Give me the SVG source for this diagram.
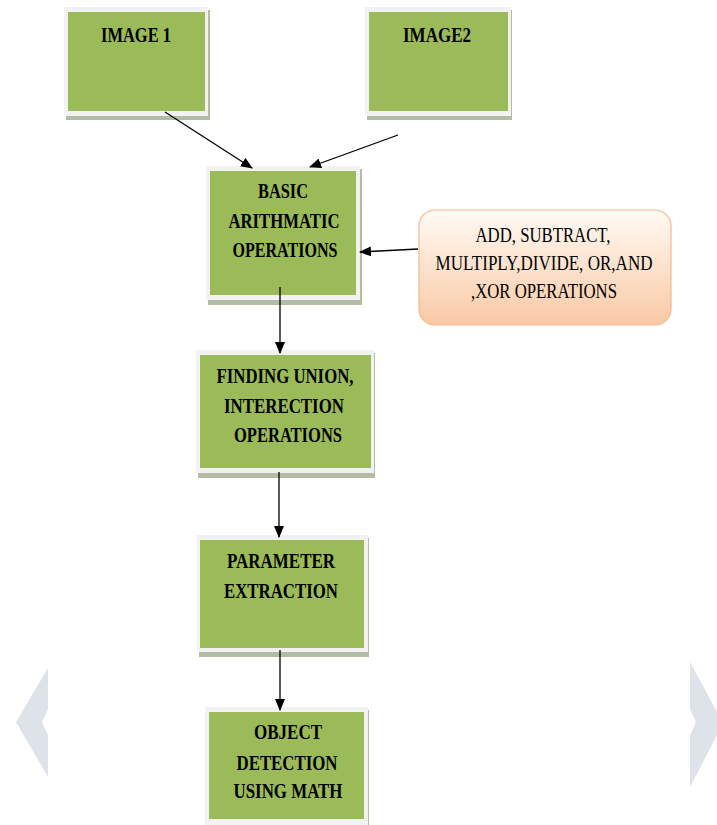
<svg xmlns="http://www.w3.org/2000/svg" width="717" height="825" viewBox="0 0 717 825">
<style>
.sh{fill:#b3bca5}
.fr{fill:#f2f2f2}
.gr{fill:#9bbb59}
.lb{font-family:"Liberation Serif","Times New Roman",serif;font-weight:bold;font-size:21px;fill:#000;text-anchor:middle}
.ob{font-family:"Liberation Serif","Times New Roman",serif;font-size:20px;fill:#000;text-anchor:middle}
.cn{stroke:#000;stroke-width:1.3;fill:none;marker-end:url(#ah)}
.chev{fill:#dde3e8}
</style>
<defs>
<marker id="ah" markerWidth="12" markerHeight="10" refX="11" refY="5" orient="auto" markerUnits="userSpaceOnUse">
<path d="M0,0 L12,5 L0,10 Z" fill="#000"/>
</marker>
<linearGradient id="og" x1="0" y1="0" x2="0" y2="1">
<stop offset="0" stop-color="#fffaf5"/>
<stop offset="1" stop-color="#f9c9a4"/>
</linearGradient>
</defs>
<rect width="717" height="825" fill="#fff"/>
<g id="chevrons">
<polygon class="chev" points="48,668 16,722 48,777 48,735 42,722 48,709"/>
<polygon class="chev" points="690,662 717,712 717,735 690,787 690,735 696,722 690,709"/>
</g>
<g id="image1">
<rect class="sh" x="66" y="10" width="144" height="110"/>
<rect class="fr" x="64" y="7" width="144" height="109"/>
<rect class="gr" x="68" y="12" width="137" height="99"/>
<text class="lb" x="136" y="42" font-size="22" textLength="70" lengthAdjust="spacingAndGlyphs">IMAGE 1</text>
</g>
<g id="image2">
<rect class="sh" x="367" y="10" width="145" height="110"/>
<rect class="fr" x="365" y="7" width="146" height="109"/>
<rect class="gr" x="369" y="12" width="139" height="99"/>
<text class="lb" x="437" y="42" font-size="22" textLength="68" lengthAdjust="spacingAndGlyphs">IMAGE2</text>
</g>
<g id="basic">
<rect class="sh" x="208" y="169" width="154" height="136"/>
<rect class="fr" x="206" y="166" width="154" height="134"/>
<rect class="gr" x="210" y="171" width="146" height="124"/>
<text class="lb" x="283" y="198" textLength="50" lengthAdjust="spacingAndGlyphs">BASIC</text>
<text class="lb" x="284" y="228" textLength="111" lengthAdjust="spacingAndGlyphs">ARITHMATIC</text>
<text class="lb" x="285" y="257" textLength="105" lengthAdjust="spacingAndGlyphs">OPERATIONS</text>
</g>
<g id="ops">
<rect x="419" y="210" width="252" height="115" rx="16" ry="16" fill="url(#og)" stroke="#f4b98c" stroke-width="1.2"/>
<text class="ob" x="543" y="242" textLength="135" lengthAdjust="spacingAndGlyphs">ADD, SUBTRACT,</text>
<text class="ob" x="544" y="270" textLength="217" lengthAdjust="spacingAndGlyphs">MULTIPLY,DIVIDE, OR,AND</text>
<text class="ob" x="544" y="298" textLength="146" lengthAdjust="spacingAndGlyphs">,XOR OPERATIONS</text>
</g>
<g id="finding">
<rect class="sh" x="198" y="353" width="177" height="125"/>
<rect class="fr" x="196" y="350" width="178" height="123"/>
<rect class="gr" x="200" y="355" width="171" height="113"/>
<text class="lb" x="285" y="383" textLength="137" lengthAdjust="spacingAndGlyphs">FINDING UNION,</text>
<text class="lb" x="284" y="413" textLength="120" lengthAdjust="spacingAndGlyphs">INTERECTION</text>
<text class="lb" x="288" y="442" textLength="108" lengthAdjust="spacingAndGlyphs">OPERATIONS</text>
</g>
<g id="parameter">
<rect class="sh" x="199" y="538" width="170" height="119"/>
<rect class="fr" x="197" y="535" width="171" height="117"/>
<rect class="gr" x="200" y="540" width="164" height="108"/>
<text class="lb" x="281" y="568" textLength="108" lengthAdjust="spacingAndGlyphs">PARAMETER</text>
<text class="lb" x="281" y="598" textLength="114" lengthAdjust="spacingAndGlyphs">EXTRACTION</text>
</g>
<g id="object">
<rect class="sh" x="207" y="710" width="162" height="115"/>
<rect class="fr" x="205" y="707" width="163" height="118"/>
<rect class="gr" x="209" y="712" width="155" height="107"/>
<text class="lb" x="288" y="739" textLength="68" lengthAdjust="spacingAndGlyphs">OBJECT</text>
<text class="lb" x="287" y="770" textLength="101" lengthAdjust="spacingAndGlyphs">DETECTION</text>
<text class="lb" x="288" y="798" textLength="109" lengthAdjust="spacingAndGlyphs">USING MATH</text>
</g>
<g id="connectors">
<line class="cn" x1="165" y1="112" x2="252" y2="168"/>
<line class="cn" x1="398" y1="135" x2="310" y2="167"/>
<line class="cn" x1="418" y1="249" x2="360" y2="252"/>
<line class="cn" x1="280" y1="287" x2="280" y2="353"/>
<line class="cn" x1="279" y1="472" x2="279" y2="537"/>
<line class="cn" x1="280" y1="650" x2="280" y2="710"/>
</g>
</svg>
